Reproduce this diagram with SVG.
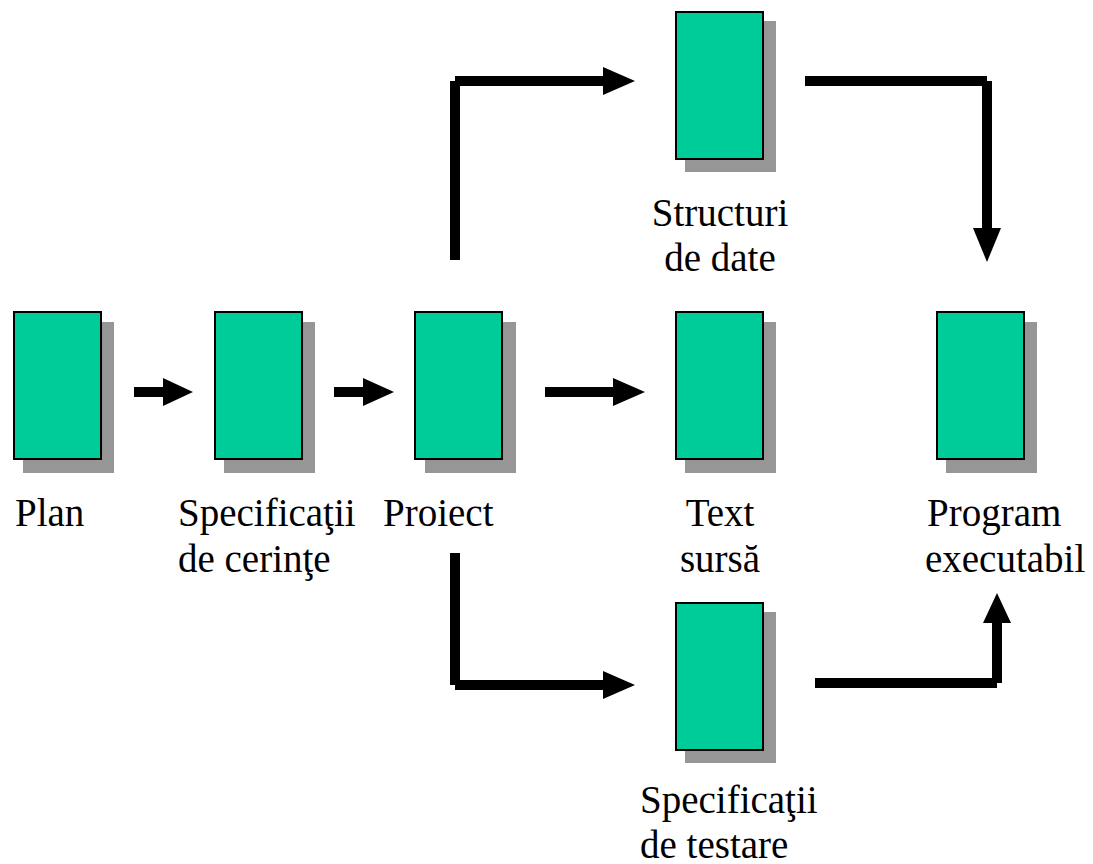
<svg xmlns="http://www.w3.org/2000/svg" width="1093" height="864" viewBox="0 0 1093 864">
  <style>
    .shadow { fill: #969696; }
    .box { fill: #00cc99; stroke: #000000; stroke-width: 2; }
    .wire { fill: none; stroke: #000000; stroke-width: 10; stroke-linecap: butt; }
    .head { fill: #000000; }
  </style>
  <rect width="1093" height="864" fill="#ffffff"/>

  <g id="plan">
    <rect class="shadow" x="23" y="322" width="91" height="151"/>
    <rect class="box" x="14" y="312" width="87" height="147"/>
    <text x="15" y="526" font-family="Times New Roman" font-size="39">Plan</text>
  </g>

  <g id="specificatii-cerinte">
    <rect class="shadow" x="224" y="322" width="91" height="151"/>
    <rect class="box" x="215" y="312" width="87" height="147"/>
    <text x="178" y="526" font-family="Times New Roman" font-size="39">Specificaţii</text>
    <text x="178" y="572" font-family="Times New Roman" font-size="39">de cerinţe</text>
  </g>

  <g id="proiect">
    <rect class="shadow" x="425" y="322" width="91" height="151"/>
    <rect class="box" x="415" y="312" width="87" height="147"/>
    <text x="383" y="526" font-family="Times New Roman" font-size="39">Proiect</text>
  </g>

  <g id="structuri-date">
    <rect class="shadow" x="685" y="21" width="91" height="151"/>
    <rect class="box" x="676" y="12" width="87" height="147"/>
    <text x="720" y="226" text-anchor="middle" font-family="Times New Roman" font-size="39">Structuri</text>
    <text x="720" y="271" text-anchor="middle" font-family="Times New Roman" font-size="39">de date</text>
  </g>

  <g id="text-sursa">
    <rect class="shadow" x="685" y="322" width="91" height="151"/>
    <rect class="box" x="676" y="312" width="87" height="147"/>
    <text x="720" y="526" text-anchor="middle" font-family="Times New Roman" font-size="39">Text</text>
    <text x="720" y="572" text-anchor="middle" font-family="Times New Roman" font-size="39">sursă</text>
  </g>

  <g id="program-executabil">
    <rect class="shadow" x="946" y="322" width="91" height="151"/>
    <rect class="box" x="937" y="312" width="87" height="147"/>
    <text x="927" y="526" font-family="Times New Roman" font-size="39">Program</text>
    <text x="925" y="572" font-family="Times New Roman" font-size="39">executabil</text>
  </g>

  <g id="specificatii-testare">
    <rect class="shadow" x="685" y="612" width="91" height="151"/>
    <rect class="box" x="676" y="603" width="87" height="147"/>
    <text x="640" y="813" font-family="Times New Roman" font-size="39">Specificaţii</text>
    <text x="640" y="858" font-family="Times New Roman" font-size="39">de testare</text>
  </g>

  <g id="connectors">
    <!-- Plan -> Specificatii -->
    <line class="wire" x1="134" y1="392" x2="164" y2="392"/>
    <polygon class="head" points="163,378 193,392 163,406"/>
    <!-- Specificatii -> Proiect -->
    <line class="wire" x1="334" y1="392" x2="364" y2="392"/>
    <polygon class="head" points="363,378 394,392 363,406"/>
    <!-- Proiect -> Text sursa -->
    <line class="wire" x1="545" y1="392" x2="614" y2="392"/>
    <polygon class="head" points="613,378 645,392 613,406"/>
    <!-- Proiect -> Structuri de date -->
    <line class="wire" x1="455" y1="260" x2="455" y2="81"/>
    <line class="wire" x1="455" y1="81" x2="604" y2="81"/>
    <polygon class="head" points="603,67 635,81 603,95"/>
    <!-- Structuri de date -> Program executabil -->
    <line class="wire" x1="805" y1="81" x2="987" y2="81"/>
    <line class="wire" x1="987" y1="81" x2="987" y2="229"/>
    <polygon class="head" points="973,228 987,262 1001,228"/>
    <!-- Proiect -> Specificatii de testare -->
    <line class="wire" x1="455" y1="553" x2="455" y2="685"/>
    <line class="wire" x1="455" y1="685" x2="604" y2="685"/>
    <polygon class="head" points="603,671 635,685 603,699"/>
    <!-- Specificatii de testare -> Program executabil -->
    <line class="wire" x1="815" y1="683" x2="997" y2="683"/>
    <line class="wire" x1="997" y1="683" x2="997" y2="622"/>
    <polygon class="head" points="983,623 997,593 1011,623"/>
  </g>
</svg>
